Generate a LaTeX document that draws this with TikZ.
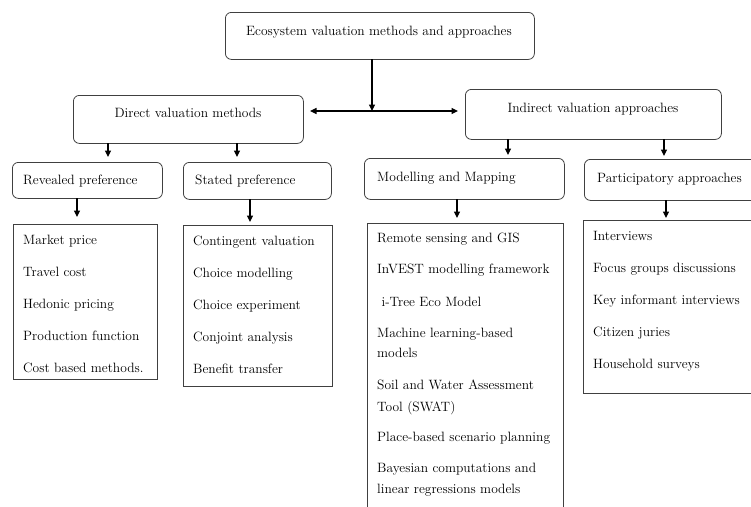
\documentclass[tikz,border=0pt]{standalone}
\usepackage{tikz}
\usetikzlibrary{arrows.meta,positioning}
\tikzset{font=\fontsize{13.5}{15}\selectfont}
\tikzset{hbox/.style={draw=black!75, line width=.8pt, rounded corners=6pt, anchor=north west, inner sep=0pt}}
\tikzset{lbox/.style={draw=black!75, line width=.8pt, anchor=north west, inner sep=0pt}}
\tikzset{txt/.style={inner sep=0pt, anchor=base west}}
\tikzset{arr/.style={-{Triangle[length=6.5pt,width=6pt]}, line width=1.1pt}}
\tikzset{darr/.style={{Triangle[length=6.5pt,width=6pt]}-{Triangle[length=6.5pt,width=6pt]}, line width=1.1pt}}

\begin{document}
\begin{tikzpicture}[x=1pt,y=-1pt]
  \clip (0,0) rectangle (751,506);

  % rounded boxes
  \node[hbox, minimum width=309pt, minimum height=47pt] (top) at (225,12) {};
  \node[hbox, minimum width=230pt, minimum height=48pt] (dir) at (73,95) {};
  \node[hbox, minimum width=256pt, minimum height=50pt] (ind) at (465,89) {};
  \node[hbox, minimum width=150pt, minimum height=36pt] (rev) at (12,162) {};
  \node[hbox, minimum width=148pt, minimum height=37pt] (sta) at (183,162) {};
  \node[hbox, minimum width=200pt, minimum height=41pt] (mod) at (364,158) {};
  \node[hbox, minimum width=190pt, minimum height=41pt] (par) at (584,159) {};

  \node[txt, anchor=base] (top-t) at (379,35) {Ecosystem valuation methods and approaches};
  \node[txt, anchor=base] (dir-t) at (188,117) {Direct valuation methods};
  \node[txt, anchor=base] (ind-t) at (593,112) {Indirect valuation approaches};
  \node[txt] (rev-t) at (23,184) {Revealed preference};
  \node[txt] (sta-t) at (195,184) {Stated preference};
  \node[txt] (mod-t) at (377,181) {Modelling and Mapping};
  \node[txt] (par-t) at (597,182) {Participatory approaches};

  % list boxes
  \node[lbox, minimum width=144pt, minimum height=155pt] (revl) at (13,224) {};
  \node[lbox, minimum width=149pt, minimum height=161pt] (stal) at (183,225) {};
  \node[lbox, minimum width=196pt, minimum height=310pt] (modl) at (367,223) {};
  \node[lbox, minimum width=190pt, minimum height=173pt] (parl) at (583,220) {};

  \foreach \t [count=\i] in {Market price, Travel cost, Hedonic pricing,
      Production function, Cost based methods.}
    \node[txt] (revl-\i) at (23,{212+\i*32}) {\t};
  \foreach \t [count=\i] in {Contingent valuation, Choice modelling,
      Choice experiment, Conjoint analysis, Benefit transfer}
    \node[txt] (stal-\i) at (193,{213+\i*32}) {\t};
  \foreach \y/\t [count=\i] in {242/Remote sensing and GIS,
      273/InVEST modelling framework, 306/\ i-Tree Eco Model,
      337/Machine learning-based, 357/models,
      389/Soil and Water Assessment, 411/Tool (SWAT),
      441/Place-based scenario planning,
      472/Bayesian computations and, 493/linear regressions models}
    \node[txt] (modl-\i) at (377,\y) {\t};
  \foreach \t [count=\i] in {Interviews, Focus groups discussions,
      Key informant interviews, Citizen juries, Household surveys}
    \node[txt] (parl-\i) at (593,{208+\i*32}) {\t};

  % connectors
  \coordinate (hl) at (310,111);
  \coordinate (hr) at (458,111);
  \coordinate (tp) at (372,59);
  \draw[darr] (hl) -- (hr);
  \draw[arr] (tp) -- (hl -| tp);

  \coordinate (d1) at (108,143);
  \coordinate (d2) at (237,143);
  \coordinate (i1) at (508,139);
  \coordinate (i2) at (664,139);
  \draw[arr, shorten >=5pt] (d1) -- (rev.north -| d1);
  \draw[arr, shorten >=5pt] (d2) -- (sta.north -| d2);
  \draw[arr, shorten >=3pt] (i1) -- (mod.north -| i1);
  \draw[arr, shorten >=3pt] (i2) -- (par.north -| i2);

  \coordinate (r1) at (77,198);
  \coordinate (s1) at (250,199);
  \coordinate (m1) at (457,199);
  \coordinate (p1) at (666,200);
  \draw[arr, shorten >=7pt] (r1) -- (revl.north -| r1);
  \draw[arr, shorten >=3pt] (s1) -- (stal.north -| s1);
  \draw[arr, shorten >=5pt] (m1) -- (modl.north -| m1);
  \draw[arr, shorten >=2pt] (p1) -- (parl.north -| p1);
\end{tikzpicture}
\end{document}
